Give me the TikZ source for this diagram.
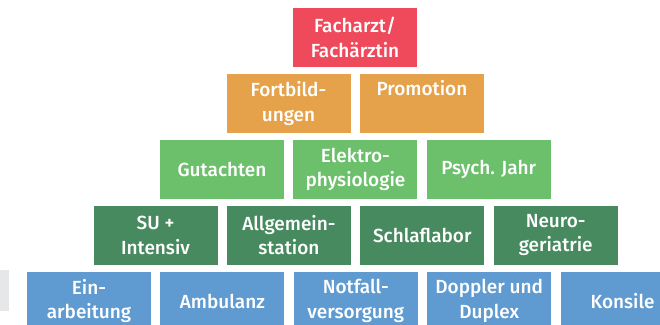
\documentclass[tikz,border=0pt]{standalone}
\usepackage{fontspec}
\setmainfont{Fira Sans}[BoldFont=Fira Sans Medium]
\usepackage{xcolor}
\definecolor{clGoal}{HTML}{EF4A5B}
\definecolor{clUpper}{HTML}{E5A24A}
\definecolor{clMiddle}{HTML}{6CC06B}
\definecolor{clLower}{HTML}{478A5F}
\definecolor{clBase}{HTML}{5F9BD0}
\definecolor{clStub}{HTML}{E6E7E8}
\usepackage{tikz}
\usetikzlibrary{positioning}
\tikzset{
  tile/.style={rectangle, draw=none, align=center, text=white, inner sep=2pt,
               minimum width=124pt, minimum height=59pt,
               font=\fontsize{19}{24.5}\selectfont\bfseries},
  goal/.style={tile, fill=clGoal},
  upper/.style={tile, fill=clUpper},
  middle/.style={tile, fill=clMiddle},
  lower/.style={tile, fill=clLower},
  base/.style={tile, fill=clBase},
  stub/.style={rectangle, draw=none, fill=clStub, minimum width=30pt, minimum height=41pt},
}

\begin{document}
\begin{tikzpicture}[node distance=6.5pt and 9pt]
  \useasboundingbox (0,0) rectangle (660pt,-324pt);
  % top
  \node[goal] (facharzt) at (355pt,-37.5pt) {Facharzt/\\Fachärztin};
  % second row
  \node[upper, below=of facharzt, xshift=-66.5pt] (fortbildung) {Fortbild-\\ungen};
  \node[upper, right=of fortbildung] (promotion) {Promotion\\\strut};
  % third row
  \node[middle, below=of fortbildung, xshift=-66.5pt] (gutachten) {Gutachten};
  \node[middle, right=of gutachten] (elektro) {Elektro-\\physiologie};
  \node[middle, right=of elektro] (psych) {Psych. Jahr};
  % fourth row
  \node[lower, below=of gutachten, xshift=-66.5pt] (intensiv) {SU +\\Intensiv};
  \node[lower, right=of intensiv] (station) {Allgemein-\\station};
  \node[lower, right=of station] (schlaf) {Schlaflabor};
  \node[lower, right=of schlaf] (neuro) {Neuro-\\geriatrie};
  % base
  \node[base, below=of intensiv, xshift=-66.5pt] (einarbeitung) {Ein-\\arbeitung};
  \node[base, right=of einarbeitung] (ambulanz) {Ambulanz};
  \node[base, right=of ambulanz] (notfall) {Notfall-\\versorgung};
  \node[base, right=of notfall] (doppler) {Doppler und\\Duplex};
  \node[base, right=of doppler] (konsile) {Konsile};
  \node[stub, left=18pt of einarbeitung, yshift=11pt] (rest) {};
\end{tikzpicture}
\end{document}
